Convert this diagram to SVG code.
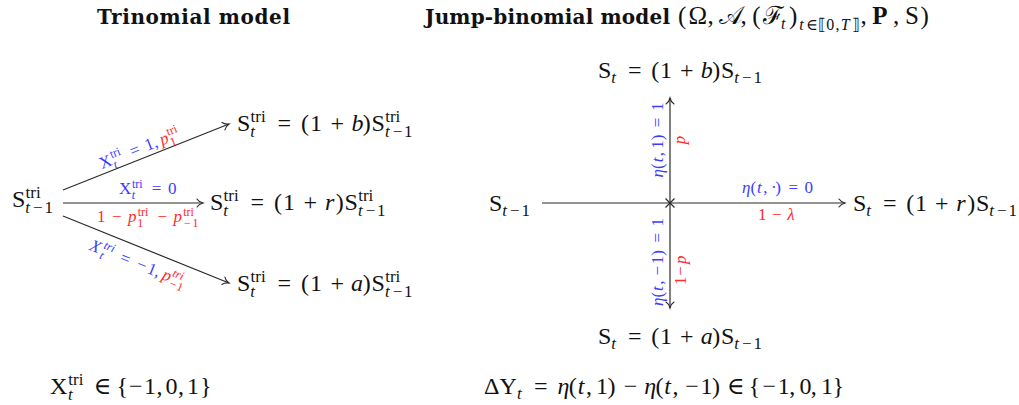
<svg xmlns="http://www.w3.org/2000/svg" width="1019" height="405" viewBox="0 0 1019 405">
<defs>
<style>
.m{font-family:"Liberation Serif","DejaVu Serif",serif;fill:#111}
.i{font-style:italic}
.bl{fill:#3c3cff}
.rd{fill:#ff2a2a}
.ttl{font-family:"DejaVu Serif",serif;font-weight:bold;font-size:20px;fill:#111}
.ln{fill:none;stroke:#2a2a2a;stroke-width:1.2}
</style>
<marker id="to" viewBox="-8 -5 10 10" refX="0" refY="0" markerWidth="10" markerHeight="10" orient="auto" markerUnits="userSpaceOnUse">
<path d="M-6,-4 C-4.5,-1.5 -1.5,-0.4 0,0 C-1.5,0.4 -4.5,1.5 -6,4" fill="none" stroke="#2a2a2a" stroke-width="1.1" stroke-linecap="round"/>
</marker>
</defs>
<rect width="1019" height="405" fill="#fff"/>

<g id="titles">
<text class="ttl" x="97" y="24" textLength="193">Trinomial model</text>
<text class="ttl" x="425" y="24" textLength="245">Jump-binomial model</text>
<g transform="translate(678,24)">
<text class="m" font-size="25"><tspan x="0" y="0">(</tspan><tspan x="10.4" y="0">Ω</tspan><tspan x="29.5" y="0">,</tspan><tspan x="41.3" y="0">𝒜</tspan><tspan x="62.5" y="0">,</tspan><tspan x="74.3" y="0">(</tspan><tspan x="84.6" y="0">ℱ</tspan><tspan x="102.9" y="5" font-size="16" class="i">t</tspan><tspan x="110.9" y="0">)</tspan><tspan x="121.2" y="6" font-size="16" class="i">t</tspan><tspan x="128" y="6" font-size="16">∈</tspan><tspan x="140.4" y="6" font-size="16">⟦</tspan><tspan x="148.2" y="6" font-size="16">0</tspan><tspan x="157.5" y="6" font-size="16">,</tspan><tspan x="162.7" y="6" font-size="16" class="i">T</tspan><tspan x="173.5" y="6" font-size="16">⟧</tspan><tspan x="182.5" y="0">,</tspan><tspan x="194.3" y="0" font-weight="bold">P</tspan><tspan x="215" y="0">,</tspan><tspan x="226.9" y="0">S</tspan><tspan x="242.6" y="0">)</tspan></text>
</g>
</g>

<g id="connectors">
<path class="ln" d="M63,190 L229,124" marker-end="url(#to)"/>
<path class="ln" d="M63,203 L203,203" marker-end="url(#to)"/>
<path class="ln" d="M63,216 L229,283" marker-end="url(#to)"/>
<path class="ln" d="M542,203 L845,203" marker-end="url(#to)"/>
<path class="ln" d="M670,203 L670,98" marker-end="url(#to)"/>
<path class="ln" d="M670,203 L670,308" marker-end="url(#to)"/>
<path class="ln" d="M665.5,198.5 L674.5,207.5 M674.5,198.5 L665.5,207.5"/>
</g>

<g id="tri-labels">
<g transform="translate(142.2,153.1) rotate(-21.7)">
<text class="m" font-size="17"><tspan class="bl" x="-43.45" y="0">X</tspan><tspan class="bl" x="-30.55" y="-6.5" font-size="12">tri</tspan><tspan class="bl i" x="-30.7" y="4.5" font-size="12">t</tspan><tspan class="bl" x="-10.7" y="0">=</tspan><tspan class="bl" x="5.4" y="0">1</tspan><tspan class="bl" x="13.9" y="0">,</tspan><tspan class="rd i" x="21.4" y="0">p</tspan><tspan class="rd" x="30.45" y="-6.5" font-size="12">tri</tspan><tspan class="rd" x="29.95" y="4.5" font-size="12">1</tspan></text>
</g>
<g transform="translate(119,194)">
<text class="m bl" font-size="17"><tspan x="0" y="0">X</tspan><tspan x="12.9" y="-6.5" font-size="12">tri</tspan><tspan class="i" x="12.75" y="4.5" font-size="12">t</tspan><tspan x="32.8" y="0">=</tspan><tspan x="48.9" y="0">0</tspan></text>
</g>
<g transform="translate(97,222)">
<text class="m rd" font-size="17"><tspan x="0" y="0">1</tspan><tspan x="14.9" y="0">−</tspan><tspan class="i" x="31.1" y="0">p</tspan><tspan x="40.7" y="-6.5" font-size="12">tri</tspan><tspan x="40.2" y="4.5" font-size="12">1</tspan><tspan x="60.4" y="0">−</tspan><tspan class="i" x="76.5" y="0">p</tspan><tspan x="86.2" y="-6.5" font-size="12">tri</tspan><tspan x="86.9" y="4.5" font-size="12">−</tspan><tspan x="95.5" y="4.5" font-size="12">1</tspan></text>
</g>
<g transform="translate(135.8,268.5) rotate(22)">
<text class="m" font-size="17"><tspan class="bl i" x="-51" y="0">X</tspan><tspan class="bl i" x="-38.1" y="-6.5" font-size="12">tri</tspan><tspan class="bl i" x="-38.25" y="4.5" font-size="12">t</tspan><tspan class="bl" x="-18.25" y="0">=</tspan><tspan class="bl" x="-0.35" y="0">−</tspan><tspan class="bl" x="11.05" y="0">1</tspan><tspan class="bl" x="19.55" y="0">,</tspan><tspan class="rd i" x="27.05" y="0">p</tspan><tspan class="rd i" x="36.1" y="-6.5" font-size="12">tri</tspan><tspan class="rd" x="36.9" y="4.5" font-size="12">−</tspan><tspan class="rd" x="44.9" y="4.5" font-size="12">1</tspan></text>
</g>
</g>

<g id="tri-prev" transform="translate(12,207)">
<text class="m" font-size="24"><tspan x="0" y="0">S</tspan><tspan x="13.6" y="-9" font-size="17">tri</tspan><tspan class="i" x="13.3" y="6" font-size="17">t</tspan><tspan x="21.1" y="6" font-size="17">−</tspan><tspan x="32.5" y="6" font-size="17">1</tspan></text>
</g>
<g id="tri-up" transform="translate(237,131)">
<text class="m" font-size="24"><tspan x="0" y="0">S</tspan><tspan x="13.6" y="-9" font-size="17">tri</tspan><tspan class="i" x="13.3" y="6" font-size="17">t</tspan><tspan x="40.6" y="0">=</tspan><tspan x="64" y="0">(</tspan><tspan x="73" y="0">1</tspan><tspan x="93.6" y="0">+</tspan><tspan class="i" x="114.5" y="0">b</tspan><tspan x="125.8" y="0">)</tspan><tspan x="134.6" y="0">S</tspan><tspan x="148.2" y="-9" font-size="17">tri</tspan><tspan class="i" x="147.9" y="6" font-size="17">t</tspan><tspan x="155.7" y="6" font-size="17">−</tspan><tspan x="167.1" y="6" font-size="17">1</tspan></text>
</g>
<g id="tri-mid" transform="translate(210,210)">
<text class="m" font-size="24"><tspan x="0" y="0">S</tspan><tspan x="13.6" y="-9" font-size="17">tri</tspan><tspan class="i" x="13.3" y="6" font-size="17">t</tspan><tspan x="40.6" y="0">=</tspan><tspan x="64" y="0">(</tspan><tspan x="73" y="0">1</tspan><tspan x="93.6" y="0">+</tspan><tspan class="i" x="115" y="0">r</tspan><tspan x="125.8" y="0">)</tspan><tspan x="134.6" y="0">S</tspan><tspan x="148.2" y="-9" font-size="17">tri</tspan><tspan class="i" x="147.9" y="6" font-size="17">t</tspan><tspan x="155.7" y="6" font-size="17">−</tspan><tspan x="167.1" y="6" font-size="17">1</tspan></text>
</g>
<g id="tri-down" transform="translate(237,291)">
<text class="m" font-size="24"><tspan x="0" y="0">S</tspan><tspan x="13.6" y="-9" font-size="17">tri</tspan><tspan class="i" x="13.3" y="6" font-size="17">t</tspan><tspan x="40.6" y="0">=</tspan><tspan x="64" y="0">(</tspan><tspan x="73" y="0">1</tspan><tspan x="93.6" y="0">+</tspan><tspan class="i" x="114" y="0">a</tspan><tspan x="125.8" y="0">)</tspan><tspan x="134.6" y="0">S</tspan><tspan x="148.2" y="-9" font-size="17">tri</tspan><tspan class="i" x="147.9" y="6" font-size="17">t</tspan><tspan x="155.7" y="6" font-size="17">−</tspan><tspan x="167.1" y="6" font-size="17">1</tspan></text>
</g>

<g id="jb-labels">
<g transform="translate(742,193)">
<text class="m bl" font-size="17"><tspan class="i" x="0" y="0">η</tspan><tspan x="8.45" y="0">(</tspan><tspan class="i" x="15.05" y="0">t</tspan><tspan x="21.15" y="0">,</tspan><tspan x="28.9" y="0">·</tspan><tspan x="33.35" y="0">)</tspan><tspan x="46.45" y="0">=</tspan><tspan x="62.55" y="0">0</tspan></text>
</g>
<g transform="translate(758,220)">
<text class="m rd" font-size="17"><tspan x="0" y="0">1</tspan><tspan x="14.1" y="0">−</tspan><tspan class="i" x="29.3" y="0">λ</tspan></text>
</g>
<g transform="translate(663,177.4) rotate(-90)">
<text class="m bl" font-size="17"><tspan class="i" x="0" y="0">η</tspan><tspan x="8.45" y="0">(</tspan><tspan class="i" x="15.05" y="0">t</tspan><tspan x="21.15" y="0">,</tspan><tspan x="28.65" y="0">1</tspan><tspan x="37.15" y="0">)</tspan><tspan x="50.25" y="0">=</tspan><tspan x="66.35" y="0">1</tspan></text>
</g>
<g transform="translate(663,306) rotate(-90)">
<text class="m bl" font-size="17"><tspan class="i" x="0" y="0">η</tspan><tspan x="8.45" y="0">(</tspan><tspan class="i" x="15.05" y="0">t</tspan><tspan x="21.15" y="0">,</tspan><tspan x="30.45" y="0">−</tspan><tspan x="41.85" y="0">1</tspan><tspan x="50.35" y="0">)</tspan><tspan x="63.45" y="0">=</tspan><tspan x="79.55" y="0">1</tspan></text>
</g>
<g transform="translate(685,144.3) rotate(-90)">
<text class="m rd i" font-size="17" x="0" y="0">p</text>
</g>
<g transform="translate(686,285) rotate(-90)">
<text class="m rd" font-size="17"><tspan x="0" y="0">1</tspan><tspan x="9.3" y="0">−</tspan><tspan class="i" x="21" y="0">p</tspan></text>
</g>
</g>

<g id="jb-prev" transform="translate(489,211)">
<text class="m" font-size="24"><tspan x="0" y="0">S</tspan><tspan class="i" x="13.3" y="5" font-size="17">t</tspan><tspan x="21.1" y="5" font-size="17">−</tspan><tspan x="32.5" y="5" font-size="17">1</tspan></text>
</g>
<g id="jb-up" transform="translate(598,78)">
<text class="m" font-size="24"><tspan x="0" y="0">S</tspan><tspan class="i" x="13.3" y="5" font-size="17">t</tspan><tspan x="29.9" y="0">=</tspan><tspan x="53.3" y="0">(</tspan><tspan x="62" y="0">1</tspan><tspan x="81.9" y="0">+</tspan><tspan class="i" x="102.8" y="0">b</tspan><tspan x="114.2" y="0">)</tspan><tspan x="122.9" y="0">S</tspan><tspan class="i" x="136.2" y="5" font-size="17">t</tspan><tspan x="144" y="5" font-size="17">−</tspan><tspan x="155.4" y="5" font-size="17">1</tspan></text>
</g>
<g id="jb-mid" transform="translate(853,211)">
<text class="m" font-size="24"><tspan x="0" y="0">S</tspan><tspan class="i" x="13.3" y="5" font-size="17">t</tspan><tspan x="29.9" y="0">=</tspan><tspan x="53.3" y="0">(</tspan><tspan x="62" y="0">1</tspan><tspan x="81.9" y="0">+</tspan><tspan class="i" x="103.3" y="0">r</tspan><tspan x="114.2" y="0">)</tspan><tspan x="122.9" y="0">S</tspan><tspan class="i" x="136.2" y="5" font-size="17">t</tspan><tspan x="144" y="5" font-size="17">−</tspan><tspan x="155.4" y="5" font-size="17">1</tspan></text>
</g>
<g id="jb-down" transform="translate(598,344)">
<text class="m" font-size="24"><tspan x="0" y="0">S</tspan><tspan class="i" x="13.3" y="5" font-size="17">t</tspan><tspan x="29.9" y="0">=</tspan><tspan x="53.3" y="0">(</tspan><tspan x="62" y="0">1</tspan><tspan x="81.9" y="0">+</tspan><tspan class="i" x="102.8" y="0">a</tspan><tspan x="114.2" y="0">)</tspan><tspan x="122.9" y="0">S</tspan><tspan class="i" x="136.2" y="5" font-size="17">t</tspan><tspan x="144" y="5" font-size="17">−</tspan><tspan x="155.4" y="5" font-size="17">1</tspan></text>
</g>

<g id="bottom-left" transform="translate(50,394)">
<text class="m" font-size="24"><tspan x="0" y="0">X</tspan><tspan x="18.3" y="-9" font-size="17">tri</tspan><tspan class="i" x="18" y="6" font-size="17">t</tspan><tspan x="43.7" y="0">∈</tspan><tspan x="66.6" y="0">{</tspan><tspan x="79" y="0">−</tspan><tspan x="94" y="0">1</tspan><tspan x="106.5" y="0">,</tspan><tspan x="115.5" y="0">0</tspan><tspan x="128" y="0">,</tspan><tspan x="137" y="0">1</tspan><tspan x="150" y="0">}</tspan></text>
</g>
<g id="bottom-right" transform="translate(484,394)">
<text class="m" font-size="24"><tspan x="0" y="0">Δ</tspan><tspan x="15.5" y="0">Y</tspan><tspan class="i" x="33" y="5" font-size="17">t</tspan><tspan x="49.9" y="0">=</tspan><tspan class="i" x="73.5" y="0">η</tspan><tspan x="84.8" y="0">(</tspan><tspan class="i" x="93.7" y="0">t</tspan><tspan x="102" y="0">,</tspan><tspan x="112.1" y="0">1</tspan><tspan x="123.5" y="0">)</tspan><tspan x="139.8" y="0">−</tspan><tspan class="i" x="160.2" y="0">η</tspan><tspan x="171.5" y="0">(</tspan><tspan class="i" x="180.3" y="0">t</tspan><tspan x="188.6" y="0">,</tspan><tspan x="201.2" y="0">−</tspan><tspan x="216.5" y="0">1</tspan><tspan x="227.9" y="0">)</tspan><tspan x="243.1" y="0">∈</tspan><tspan x="264.7" y="0">{</tspan><tspan x="278.5" y="0">−</tspan><tspan x="293.8" y="0">1</tspan><tspan x="305.2" y="0">,</tspan><tspan x="315.4" y="0">0</tspan><tspan x="326.8" y="0">,</tspan><tspan x="337" y="0">1</tspan><tspan x="348.4" y="0">}</tspan></text>
</g>
</svg>
